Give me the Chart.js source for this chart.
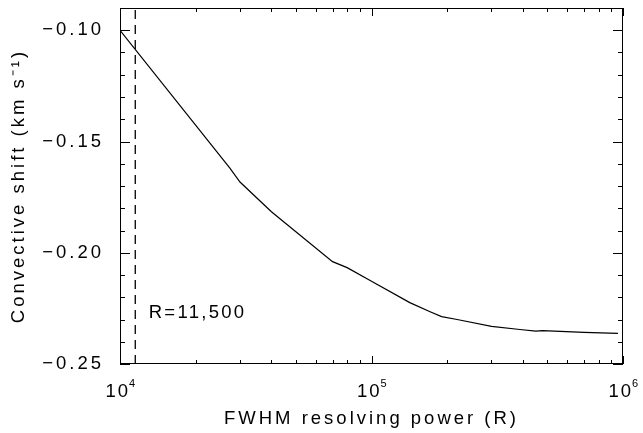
<!DOCTYPE html>
<html>
<head>
<meta charset="utf-8">
<script src="https://cdn.jsdelivr.net/npm/chart.js@4/dist/chart.umd.min.js"></script>
<style>
    body { margin: 0; background: #fff; }
    #wrap { width: 643px; height: 433px; }
</style>
</head>
<body>
<div id="wrap"><canvas id="shiftChart"></canvas></div>
<script>
// --- Data ---
const resolvingPower = [10000, 27300, 30000, 40000, 70000, 80000, 100000, 142000, 171000, 190000, 219000, 300000, 389000, 450000, 479000, 700000, 955000];
const convectiveShift = [-0.1000, -0.1619, -0.1682, -0.1816, -0.2040, -0.2067, -0.2128, -0.2224, -0.2265, -0.2287, -0.2300, -0.2331, -0.2345, -0.2352, -0.2350, -0.2358, -0.2362];

const markerR = 11500;
const markerLabel = "R=11,500";

const xTickValues = [1e4, 1e5, 1e6];
const xTickBase = "10";
const xTickExponents = ["4", "5", "6"];
const yTickValues = [-0.25, -0.20, -0.15, -0.10];
const yTickLabels = ["\u22120.25", "\u22120.20", "\u22120.15", "\u22120.10"];

const xMin = 1e4, xMax = 1e6;
const yMin = -0.25, yMax = -0.09;

const fontFamily = "'Liberation Sans', Arial, sans-serif";
const fontSize = 18.5;
const spacing = "3px";

// the reference text is widely tracked, so set letter spacing on the context
const tracking = {
    id: "tracking",
    beforeLayout(chart) { chart.ctx.letterSpacing = spacing; },
    beforeDraw(chart) { chart.ctx.letterSpacing = spacing; },
};

// --- Inward ticks, frame, power-of-ten labels, marker text ---
const frameTicks = {
    id: "frameTicks",
    afterDraw(chart) {
        const { ctx, chartArea: a, scales: { x, y } } = chart;
        ctx.save();
        ctx.strokeStyle = "#000";
        ctx.lineWidth = 1;
        ctx.strokeRect(a.left + 0.5, a.top + 0.5, a.right - a.left - 1, a.bottom - a.top - 1);
        ctx.beginPath();
        // x: decades and 2..9 minors, bottom and top
        for (let d = 1e4; d < 1e6 + 1; d *= 10) {
            for (let m = 1; m <= 9; m++) {
                const v = d * m;
                if (v < xMin || v > xMax) continue;
                const px = Math.round(x.getPixelForValue(v)) + 0.5;
                const len = m === 1 ? 8 : 4;
                ctx.moveTo(px, a.bottom); ctx.lineTo(px, a.bottom - len);
                ctx.moveTo(px, a.top); ctx.lineTo(px, a.top + len);
            }
        }
        // y: every 0.01, majors every 0.05, left and right
        for (let i = 0; i <= 16; i++) {
            const v = yMin + i * 0.01;
            const py = Math.round(y.getPixelForValue(v)) + 0.5;
            const len = i % 5 === 0 ? 10 : 5;
            ctx.moveTo(a.left, py); ctx.lineTo(a.left + len, py);
            ctx.moveTo(a.right, py); ctx.lineTo(a.right - len, py);
        }
        ctx.stroke();

        ctx.fillStyle = "#000";
        ctx.textBaseline = "alphabetic";
        // x tick labels as 10 with a raised exponent
        xTickValues.forEach((v, i) => {
            const px = x.getPixelForValue(v);
            ctx.letterSpacing = "2px";
            ctx.font = fontSize + "px " + fontFamily;
            ctx.textAlign = "right";
            ctx.fillText(xTickBase, px + 10, a.bottom + 33);
            ctx.letterSpacing = "0px";
            ctx.font = "11px " + fontFamily;
            ctx.textAlign = "left";
            ctx.fillText(xTickExponents[i], px + 9, a.bottom + 23);
        });

        // marker label
        ctx.letterSpacing = "2.3px";
        ctx.font = fontSize + "px " + fontFamily;
        ctx.textAlign = "left";
        ctx.textBaseline = "middle";
        ctx.fillText(markerLabel, x.getPixelForValue(13000), y.getPixelForValue(-0.2269));
        ctx.restore();
    },
};

const ctx = document.getElementById("shiftChart").getContext("2d");
new Chart(ctx, {
    type: "line",
    data: {
        datasets: [
            {
                label: "shift",
                data: resolvingPower.map((r, i) => ({ x: r, y: convectiveShift[i] })),
                borderColor: "#000",
                borderWidth: 1.2,
                pointRadius: 0,
                tension: 0,
                fill: false,
            },
            {
                label: "marker",
                data: [{ x: markerR, y: yMin }, { x: markerR, y: yMax }],
                borderColor: "#000",
                borderWidth: 1.3,
                borderDash: [9, 6],
                pointRadius: 0,
                fill: false,
            },
        ],
    },
    options: {
        responsive: true,
        maintainAspectRatio: false,
        animation: false,
        layout: { padding: { top: 8, right: 20, left: 0, bottom: 0 } },
        plugins: { legend: { display: false }, tooltip: { enabled: false } },
        scales: {
            x: {
                type: "logarithmic",
                min: xMin,
                max: xMax,
                grid: { display: false },
                border: { display: false },
                afterBuildTicks: (s) => { s.ticks = xTickValues.map((v) => ({ value: v })); },
                afterFit: (s) => { s.height = 69; s.paddingLeft = 0; s.paddingRight = 0; },
                ticks: { display: false },
                title: {
                    display: true,
                    text: "FWHM resolving power (R)",
                    color: "#000",
                    padding: { top: 0, bottom: 3 },
                    font: { family: fontFamily, size: fontSize },
                },
            },
            y: {
                min: yMin,
                max: yMax,
                grid: { display: false },
                border: { display: false },
                afterBuildTicks: (s) => { s.ticks = yTickValues.map((v) => ({ value: v })); },
                afterFit: (s) => { s.width = 120; s.paddingTop = 0; s.paddingBottom = 0; },
                ticks: {
                    color: "#000",
                    padding: 8,
                    font: { family: fontFamily, size: fontSize },
                    callback: (v) => {
                        const i = yTickValues.findIndex((t) => Math.abs(t - v) < 1e-9);
                        return i >= 0 ? yTickLabels[i] : "";
                    },
                },
                title: {
                    display: true,
                    text: "Convective shift (km s\u207B\u00B9)",
                    color: "#000",
                    padding: { top: 8, bottom: 0 },
                    font: { family: fontFamily, size: fontSize },
                },
            },
        },
    },
    plugins: [tracking, frameTicks],
});
</script>
</body>
</html>
